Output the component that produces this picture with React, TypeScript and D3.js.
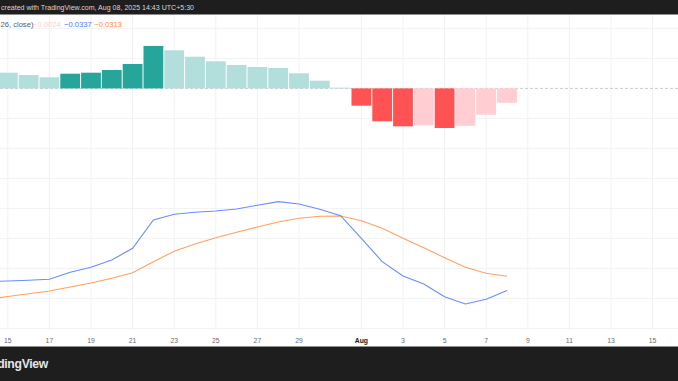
import React from "react";
import * as d3 from "d3";

const W = 678;
const H = 381;

const dates = [
  "2025-07-14", "2025-07-15", "2025-07-16", "2025-07-17", "2025-07-18", "2025-07-19",
  "2025-07-20", "2025-07-21", "2025-07-22", "2025-07-23", "2025-07-24", "2025-07-25",
  "2025-07-26", "2025-07-27", "2025-07-28", "2025-07-29", "2025-07-30", "2025-07-31",
  "2025-08-01", "2025-08-02", "2025-08-03", "2025-08-04", "2025-08-05", "2025-08-06",
  "2025-08-07", "2025-08-08",
];

const macd = [
  -0.03218, -0.0321, -0.03198, -0.03182, -0.03065, -0.02982, -0.0286, -0.02665,
  -0.02193, -0.02098, -0.02065, -0.02043, -0.0201, -0.01948, -0.01888, -0.01927,
  -0.02015, -0.02122, -0.02498, -0.02888, -0.03127, -0.0326, -0.03472, -0.03593,
  -0.03515, -0.0337,
];

const signal = [
  -0.03518, -0.03468, -0.03423, -0.03377, -0.0331, -0.03243, -0.03165, -0.03072,
  -0.02888, -0.02715, -0.02593, -0.02488, -0.02398, -0.0231, -0.02227, -0.02165,
  -0.02132, -0.02127, -0.02205, -0.02332, -0.02498, -0.02655, -0.02822, -0.02982,
  -0.03082, -0.0313,
];

const histogram = [
  0.003, 0.00262, 0.00223, 0.00185, 0.00245, 0.00262, 0.00307, 0.00407, 0.00707,
  0.00635, 0.00528, 0.00452, 0.0039, 0.00357, 0.0034, 0.00252, 0.00128, 0.00012,
  -0.00288, -0.00548, -0.00632, -0.00615, -0.0066, -0.00622, -0.00438, -0.0024,
];

const tickDates = [
  "2025-07-15", "2025-07-17", "2025-07-19", "2025-07-21", "2025-07-23", "2025-07-25",
  "2025-07-27", "2025-07-29", "2025-08-01", "2025-08-03", "2025-08-05", "2025-08-07",
  "2025-08-09", "2025-08-11", "2025-08-13", "2025-08-15",
];

const headerText = "created with TradingView.com, Aug 08, 2025 14:43 UTC+5:30";
const legendPrefix = "26, close)";
const brandText = "TradingView";

const COLORS = {
  upStrong: "#26a69a",
  upWeak: "#b2dfdb",
  downStrong: "#ff5252",
  downWeak: "#ffcdd2",
  macd: "#6a8cfc",
  signal: "#ffa15e",
  grid: "#f1f2f4",
  dark: "#1e1e1e",
};

const FONT = "'Liberation Sans', Arial, sans-serif";

export default function App() {
  const parse = d3.utcParse("%Y-%m-%d");
  const dts = dates.map((d) => parse(d) as Date);
  const ticks = tickDates.map((d) => parse(d) as Date);

  const x = d3
    .scaleUtc()
    .domain([parse("2025-07-15") as Date, parse("2025-08-15") as Date])
    .range([7.8, 652.6]);
  const y = d3.scaleLinear().domain([-0.04, 0.01]).range([328.4, 28.4]);

  const dayW = x(parse("2025-07-16") as Date) - x(parse("2025-07-15") as Date);
  const barW = dayW - 1;

  const lineGen = d3
    .line<number>()
    .x((_, i) => x(dts[i]))
    .y((v) => y(v));

  const fmt = d3.format(".4f");
  const fmtTick = (d: Date) =>
    d.getUTCDate() === 1 ? d3.utcFormat("%b")(d) : d3.utcFormat("%-d")(d);

  const barColor = (i: number) => {
    const v = histogram[i];
    const prev = i > 0 ? histogram[i - 1] : v;
    if (v >= 0) return v > prev ? COLORS.upStrong : COLORS.upWeak;
    return v < prev ? COLORS.downStrong : COLORS.downWeak;
  };

  const plotTop = 15;
  const plotBottom = 330;

  return (
    <svg
      width={W}
      height={H}
      viewBox={`0 0 ${W} ${H}`}
      style={{ position: "absolute", left: 0, top: 0, background: "#fff" }}
    >
      <rect x={0} y={0} width={W} height={H} fill="#ffffff" />
      <defs>
        <clipPath id="plot">
          <rect x={0} y={plotTop} width={W} height={plotBottom - plotTop} />
        </clipPath>
      </defs>

      {/* grid */}
      <g>
        {y.ticks(10).filter((t) => Math.abs(t) > 1e-9).map((t, i) => (
          <line key={"h" + i} x1={0} x2={W} y1={y(t)} y2={y(t)} stroke={COLORS.grid} strokeWidth={1} />
        ))}
        {ticks.map((t, i) => (
          <line key={"v" + i} x1={x(t)} x2={x(t)} y1={plotTop} y2={plotBottom} stroke={COLORS.grid} strokeWidth={1} />
        ))}
      </g>

      {/* zero line */}
      <line x1={0} x2={W} y1={y(0)} y2={y(0)} stroke="#c9ccd3" strokeWidth={1} strokeDasharray="3,2" />

      <g clipPath="url(#plot)">
        {histogram.map((v, i) => {
          const y0 = y(Math.max(0, v));
          const y1 = y(Math.min(0, v));
          return (
            <rect
              key={"b" + i}
              x={x(dts[i]) - barW / 2}
              y={y0}
              width={barW}
              height={Math.max(0.8, y1 - y0)}
              fill={barColor(i)}
            />
          );
        })}
        <path d={lineGen(signal) || ""} fill="none" stroke={COLORS.signal} strokeWidth={1.1} />
        <path d={lineGen(macd) || ""} fill="none" stroke={COLORS.macd} strokeWidth={1.1} />
      </g>

      {/* legend */}
      <g fontFamily={FONT} fontSize={7.6}>
        <text x={0.5} y={26.5} fill="#555a66">{legendPrefix}</text>
        <text x={33} y={26.5} fill={COLORS.downWeak}>{fmt(histogram[histogram.length - 1])}</text>
        <text x={64} y={26.5} fill="#4f72ff">{fmt(macd[macd.length - 1])}</text>
        <text x={94.3} y={26.5} fill="#ff8c3f">{fmt(signal[signal.length - 1])}</text>
      </g>

      {/* x axis labels */}
      <g fontFamily={FONT} fontSize={6.8} textAnchor="middle">
        {ticks.map((t, i) => {
          const isMonth = t.getUTCDate() === 1;
          return (
            <text
              key={"t" + i}
              x={x(t)}
              y={342.6}
              fill={isMonth ? "#131722" : "#6a6d78"}
              fontWeight={isMonth ? 700 : 400}
            >
              {fmtTick(t)}
            </text>
          );
        })}
      </g>

      {/* header bar */}
      <rect x={0} y={0} width={W} height={14} fill={COLORS.dark} />
      <line x1={0} x2={W} y1={14.5} y2={14.5} stroke="#8e8e8e" strokeWidth={1} />
      <text x={1} y={10} fontFamily={FONT} fontSize={7.6} fill="#d9d9d9" textLength={193} lengthAdjust="spacingAndGlyphs">
        {headerText}
      </text>

      {/* footer bar */}
      <line x1={0} x2={W} y1={346.5} y2={346.5} stroke="#8e8e8e" strokeWidth={1} />
      <rect x={0} y={347} width={W} height={H - 347} fill={COLORS.dark} />
      <text x={48} y={368.3} fontFamily={FONT} fontSize={12.2} fontWeight={700} fill="#e6e6e6" textAnchor="end" letterSpacing={-0.3}>
        {brandText}
      </text>
    </svg>
  );
}
